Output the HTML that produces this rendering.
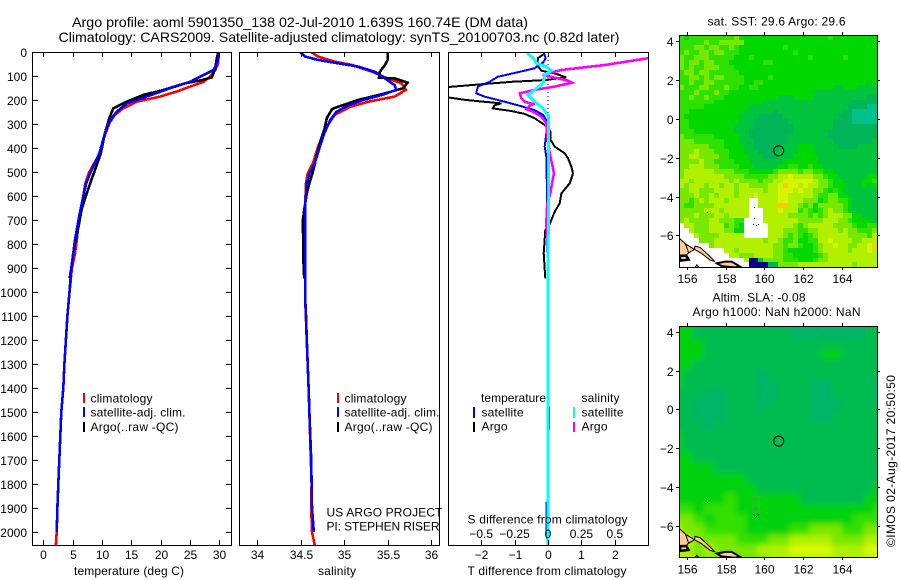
<!DOCTYPE html>
<html>
<head>
<meta charset="utf-8">
<title>Argo profile 5901350_138</title>
<style>
html,body{margin:0;padding:0;background:#fff;}
svg{display:block;}
text{font-family:"Liberation Sans",sans-serif;font-size:12px;fill:#000;}
.t{font-size:14px;}
</style>
</head>
<body>
<svg id="fig" xmlns="http://www.w3.org/2000/svg" width="900" height="580" viewBox="0 0 900 580">
<defs>
<clipPath id="c1"><rect x="33" y="52" width="198" height="493"/></clipPath>
<clipPath id="c2"><rect x="240" y="52" width="200" height="493"/></clipPath>
<clipPath id="c3"><rect x="449" y="52" width="200" height="493"/></clipPath>
<clipPath id="m1"><rect x="679" y="35" width="198" height="232"/></clipPath>
<clipPath id="m2"><rect x="679" y="326" width="198" height="231"/></clipPath>
<filter id="soft" x="-5%" y="-5%" width="110%" height="110%"><feGaussianBlur stdDeviation="3"/></filter>
</defs>
<g id="map1cells" clip-path="url(#m1)"></g>
<g clip-path="url(#m2)"><g id="map2cells" filter="url(#soft)"></g></g>
<g id="map1land" clip-path="url(#m1)"></g>
<g id="map2land" clip-path="url(#m2)"></g>
<g id="lines1" clip-path="url(#c1)"></g>
<g id="lines2" clip-path="url(#c2)"></g>
<g id="lines3" clip-path="url(#c3)"></g>
<g id="axes"></g>

<text class="t" x="72" y="27" textLength="456" lengthAdjust="spacingAndGlyphs">Argo profile: aoml 5901350_138 02-Jul-2010 1.639S 160.74E (DM data)</text>
<text class="t" x="58.5" y="42" textLength="561" lengthAdjust="spacingAndGlyphs">Climatology: CARS2009. Satellite-adjusted climatology: synTS_20100703.nc (0.82d later)</text>

<text x="74" y="575" textLength="110">temperature (deg C)</text>
<text x="318" y="575" textLength="38">salinity</text>
<text x="467.5" y="575" textLength="159">T difference from climatology</text>
<text x="467.5" y="523.5" textLength="160">S difference from climatology</text>

<rect x="83" y="393" width="2" height="10" fill="#f00"/>
<rect x="83" y="407" width="2" height="10" fill="#00f"/>
<rect x="83" y="422" width="2" height="10" fill="#000"/>
<text x="90.5" y="402.5" textLength="62">climatology</text>
<text x="90.5" y="416.5" textLength="95">satellite-adj. clim.</text>
<text x="90.5" y="431" textLength="88">Argo(..raw -QC)</text>

<rect x="337" y="393" width="2" height="10" fill="#f00"/>
<rect x="337" y="407" width="2" height="10" fill="#00f"/>
<rect x="337" y="422" width="2" height="10" fill="#000"/>
<text x="344.5" y="402.5" textLength="62">climatology</text>
<text x="344.5" y="416.5" textLength="95">satellite-adj. clim.</text>
<text x="344.5" y="431" textLength="88">Argo(..raw -QC)</text>

<text x="326.5" y="516.5" textLength="116">US ARGO PROJECT</text>
<text x="326.5" y="530.5" textLength="113">PI: STEPHEN RISER</text>

<text x="481" y="402" textLength="65">temperature</text>
<text x="581.5" y="402" textLength="38">salinity</text>
<rect x="473" y="407" width="2" height="11" fill="#00f"/>
<rect x="473" y="422" width="2" height="10" fill="#000"/>
<rect x="573" y="407" width="2" height="11" fill="#0ff"/>
<rect x="573" y="422" width="2" height="10" fill="#f0f"/>
<text x="481.5" y="416.5" textLength="42">satellite</text>
<text x="481.5" y="430.5" textLength="26">Argo</text>
<text x="581.5" y="416.5" textLength="42">satellite</text>
<text x="581.5" y="430.5" textLength="26">Argo</text>

<text x="707.5" y="25.5" textLength="138">sat. SST: 29.6 Argo: 29.6</text>
<text x="712.5" y="301.5" textLength="93">Altim. SLA: -0.08</text>
<text x="692.5" y="316" textLength="168">Argo h1000: NaN h2000: NaN</text>
<text transform="translate(895 547) rotate(-90)" x="0" y="0" textLength="172">©IMOS 02-Aug-2017 20:50:50</text>
</svg>

<script>
// ---- axis tick values ----
const depthTicks = [0,100,200,300,400,500,600,700,800,900,1000,1100,1200,1300,1400,1500,1600,1700,1800,1900,2000];
const tempTicks = [0,5,10,15,20,25,30];
const salTicks = [34,34.5,35,35.5,36];
const salTickLabels = ['34','34.5','35','35.5','36'];
const tDiffTicks = [-2,-1,0,1,2];
const sDiffTicks = [-0.5,-0.25,0,0.25,0.5];
const sDiffTickLabels = ['-0.5','-0.25','0','0.25','0.5'];
const lonTicks = [156,158,160,162,164];
const latTicks = [4,2,0,-2,-4,-6];
const floatLon = 160.74;
const floatLat = -1.639;

// ---- temperature profiles ----
const tempClimDepth = [0,47,75,103,124,144,165,186,207,235,262,297,367,422,499,547,603,686,783,839,908,1019,1100,1200,1300,1400,1500,1600,1700,1800,1900,2000,2054];
const tempClim = [29.9,29.8,29.3,28.4,27.3,25,22.7,19.9,15.9,13.6,12.2,11.25,10.2,9.65,7.84,7.16,6.8,6.1,5.7,5.4,4.83,4.4,4.1,3.85,3.6,3.4,3.07,2.9,2.73,2.56,2.4,2.28,2.15];
const tempSatDepth = [0,40,75,96,124,151,186,214,249,283,339,422,499,547,603,686,783,894,1019,1100,1200,1300,1400,1500,1600,1700,1800,1900,2000];
const tempSat = [29.8,29.7,29,27.3,25,21.6,17.6,14.2,12.5,11.4,10.5,9.55,8.07,7.3,6.8,6.1,5.4,4.8,4.4,4.1,3.85,3.6,3.4,3.07,2.9,2.73,2.56,2.4,2.28];
const tempArgoDepth = [0,33,68,106,117,131,158,179,207,235,276,339,422,464,533,603,658,728,811,894,943];
const tempArgo = [29.8,29.5,29.3,28.7,27,24.1,20.5,17,14.2,11.9,11.25,10.5,9.8,9.2,8.2,7.2,6.5,6,5.3,4.8,4.5];

// ---- salinity profiles ----
const salClimDepth = [0,19,40,54,82,106,131,158,186,207,228,262,311,394,464,506,547,644,1019,1400,1800,1900,2000,2054];
const salClim = [34.62,34.7,34.89,35.09,35.32,35.47,35.66,35.71,35.58,35.28,35.07,34.89,34.8,34.7,34.64,34.58,34.56,34.55,34.55,34.59,34.625,34.62,34.63,34.66];
const salSatDepth = [0,19,33,47,61,82,110,138,158,179,200,221,249,283,339,394,464,506,547,644,1019,1100,1200,1300,1400,1500,1600,1700,1800,1900,2000];
const salSat = [34.49,34.55,34.7,34.93,35.16,35.35,35.47,35.58,35.6,35.43,35.22,35.05,34.91,34.84,34.77,34.72,34.66,34.6,34.57,34.55,34.55,34.56,34.57,34.58,34.59,34.6,34.61,34.62,34.625,34.63,34.65];
const salArgoDepth = [0,33,54,82,107,110,128,151,172,200,228,238,276,325,367,422,499,547,589,658,700,867,943];
const salArgo = [35.5,35.5,35.47,35.41,35.4,35.58,35.73,35.68,35.47,35.16,34.93,34.86,34.8,34.77,34.73,34.69,34.64,34.6,34.57,34.54,34.525,34.53,34.54];

// ---- differences from climatology ----
const tDiffArgoDepth = [6,26,54,78,89,106,117,124,138,151,181,200,214,222,235,246,258,276,304,332,367,394,422,443,478,506,547,589,631,665,714,742,839,943];
const tDiffArgo = [-0.1,-0.3,-0.32,-0.2,0.2,0.55,-0.1,-1.1,-2.3,-3.4,-3.4,-2.45,-1.4,-1.6,-1.65,-1.1,-0.7,-0.4,-0.1,0.08,0.08,0.2,0.5,0.6,0.7,0.75,0.65,0.4,0.35,0.2,0.06,-0.08,-0.13,-0.08];
const tDiffSatDepth = [6,26,44,68,86,103,124,144,172,186,207,228,242,262,283,339,394,436,506,1019,1470,1480,1570,1580,1870,1880,2000,2054];
const tDiffSat = [-0.12,-0.07,-0.15,-0.4,-0.95,-1.5,-1.75,-2.1,-2.15,-1.9,-1.3,-0.75,-0.4,-0.15,-0.05,-0.05,-0.1,-0.05,-0.04,0,0,0.03,0.03,0,0,-0.05,-0.05,0];
const sDiffArgoDepth = [0,26,54,75,86,96,110,119,128,144,158,172,193,207,217,225,238,249,269,297,353,422,464,506,547,589,631,714,783,925];
const sDiffArgo = [0.88,0.75,0.425,0.1,0.025,-0.0375,0.075,0.15,0.18,0.05,-0.1,-0.21,-0.2,-0.175,-0.11,-0.14,-0.16,-0.11,-0.05,-0.0125,-0.005,0.0125,0.03,0.045,0.03,0.0175,-0.005,-0.0125,-0.005,0];
const sDiffSatDepth = [6,26,47,61,78,96,131,158,179,207,235,269,325,1019,2054];
const sDiffSat = [-0.155,-0.11,-0.0875,-0.0125,0.025,-0.025,-0.0375,-0.1,-0.15,-0.1,-0.0375,0.005,0.005,0,0];

// ---- heatmap colour levels: 0 no data, 1..9 cool to warm, 10 out of range low ----
const sstLevels = [
[5,4,5,5,5,5,5,5,5,5,5,6,4,4,4,4,4,4,4,4,4,4,4,4,4,4,4,4,4,4,5,4,4,4,4,4,4,4,4,4],
[5,5,5,5,5,6,5,5,6,6,6,6,6,4,4,4,4,4,4,4,4,4,4,4,4,4,4,4,4,4,4,4,4,4,4,4,4,4,4,4],
[5,5,5,6,6,5,6,6,5,5,6,5,4,4,4,4,4,4,4,4,4,5,4,4,4,4,4,4,4,4,4,4,4,4,4,4,4,4,4,4],
[5,6,5,5,6,6,5,6,6,5,5,5,4,4,4,4,4,4,4,4,4,4,4,5,4,4,4,4,4,4,4,4,4,4,4,4,4,4,4,4],
[6,5,5,6,6,6,5,5,5,5,5,4,4,4,5,4,4,4,4,4,4,4,4,4,4,4,5,4,4,4,4,4,4,5,4,4,4,4,4,4],
[6,5,6,6,5,6,6,5,5,5,4,4,4,4,4,4,4,5,5,4,4,4,4,4,4,4,4,4,4,4,4,4,4,4,4,4,4,4,4,4],
[6,5,6,5,5,6,6,6,5,5,5,4,4,4,4,4,4,4,4,4,4,4,4,4,4,4,4,4,4,4,4,4,4,4,4,4,4,4,4,4],
[5,6,6,5,6,6,5,5,5,5,5,5,4,4,4,4,4,4,4,4,4,4,4,4,4,4,4,4,4,4,4,4,4,4,4,4,4,4,4,4],
[5,5,6,6,5,6,5,6,6,5,5,5,5,4,4,4,4,4,5,4,4,4,4,4,4,4,4,4,4,4,4,4,4,4,4,4,4,4,4,4],
[5,5,6,5,5,6,6,5,5,5,5,5,5,4,4,5,5,4,4,4,4,4,4,4,4,4,4,4,4,4,4,4,4,4,4,4,4,4,3,4],
[6,5,5,5,6,6,5,5,5,6,5,5,4,4,5,5,4,4,4,4,4,4,4,4,4,4,4,4,4,4,4,3,3,4,4,4,3,3,3,3],
[5,5,5,6,5,5,5,6,5,5,4,4,4,4,4,4,4,4,4,4,4,4,4,4,4,4,4,3,3,3,3,3,3,3,3,3,3,3,3,3],
[5,5,6,5,5,6,5,5,5,4,4,4,4,4,4,4,4,4,4,4,3,3,3,4,4,4,4,3,3,3,3,3,3,3,3,3,3,3,2,2],
[5,5,5,5,5,5,5,4,4,4,4,4,4,4,4,4,4,3,3,3,3,3,3,3,3,3,3,3,3,3,3,3,3,3,3,2,2,2,2,2],
[5,5,5,5,5,4,4,4,4,4,4,4,4,4,3,3,3,3,3,3,3,3,3,3,3,3,3,3,3,3,3,3,3,3,2,2,2,2,1,1],
[5,5,4,4,4,4,4,4,4,4,4,4,4,3,3,3,3,3,3,2,3,3,3,3,3,3,3,3,3,3,3,3,3,2,2,1,1,1,1,1],
[5,4,4,4,4,4,4,4,4,4,4,4,3,3,3,3,2,2,2,2,2,3,3,3,3,3,3,3,3,3,3,3,2,2,2,1,1,1,1,1],
[5,5,4,4,4,4,4,4,4,4,4,4,3,3,3,2,2,2,2,2,2,2,3,3,3,3,3,3,3,3,3,2,2,2,2,1,1,1,1,1],
[5,5,4,4,4,4,4,4,4,4,4,3,3,3,3,2,2,2,2,2,2,2,2,3,3,3,3,3,3,3,3,2,2,2,2,2,2,2,2,2],
[5,5,5,4,4,4,4,4,4,4,4,3,3,3,2,2,2,2,2,2,2,2,2,3,3,3,3,3,3,3,2,2,2,2,2,2,2,2,2,2],
[6,5,5,5,5,5,5,4,4,4,4,4,3,3,2,2,2,2,2,2,2,2,3,3,3,3,3,3,3,3,2,2,2,2,2,2,2,2,2,2],
[6,6,6,5,5,5,5,5,5,4,4,4,3,3,3,2,2,2,2,2,2,2,3,3,3,3,3,3,3,3,3,2,2,2,2,2,2,2,2,3],
[6,6,6,6,6,6,5,5,5,4,4,4,4,3,3,2,2,2,2,2,2,3,3,3,4,4,4,3,3,3,3,3,2,2,2,2,3,3,3,3],
[6,6,6,7,6,6,6,5,5,5,4,4,4,3,3,3,2,2,2,2,3,3,3,3,4,4,4,3,3,3,3,3,3,3,3,3,3,3,3,3],
[6,6,7,7,6,6,6,6,5,5,4,4,4,4,3,3,3,2,2,2,3,3,3,4,4,4,4,4,3,3,3,3,3,3,3,3,3,3,3,3],
[6,6,6,6,7,6,6,5,5,5,5,4,4,4,3,3,3,3,3,3,3,4,4,4,4,4,4,4,3,3,3,3,3,3,3,3,3,3,3,3],
[6,6,7,7,7,6,6,6,5,5,5,5,4,4,4,3,3,3,3,3,4,4,5,5,4,4,5,4,4,3,3,3,3,3,3,3,3,3,3,3],
[6,7,7,7,7,7,7,6,6,6,6,5,5,5,4,4,4,4,4,5,6,6,6,6,5,6,6,5,5,4,4,3,3,3,3,3,3,3,3,3],
[6,7,7,7,7,7,7,7,7,6,6,6,6,5,5,5,5,5,6,6,7,7,8,7,7,7,7,6,6,5,4,4,3,3,3,3,3,3,4,4],
[7,7,6,7,7,7,7,7,7,7,6,7,6,6,6,6,5,6,6,7,7,8,8,8,8,8,8,7,6,6,5,4,4,3,3,3,3,4,4,5],
[7,6,7,7,7,6,7,7,6,7,7,6,7,7,6,6,6,6,7,7,8,9,8,8,7,8,7,7,6,6,5,4,4,4,3,3,3,4,3,4],
[6,6,7,7,6,6,6,7,7,7,7,6,7,7,7,7,7,6,7,7,8,8,8,7,8,7,7,6,6,5,4,5,4,3,3,3,3,3,3,3],
[6,6,6,7,6,6,7,6,7,7,7,6,7,7,7,8,7,7,7,7,8,8,7,7,7,7,7,6,5,5,6,6,4,4,3,3,3,3,3,3],
[6,6,5,6,7,6,7,7,7,6,7,7,7,7,0,0,7,7,7,7,8,8,7,7,7,6,6,6,4,5,6,6,5,5,4,3,3,3,3,3],
[6,5,5,6,6,6,6,7,7,7,7,7,7,7,0,0,7,7,7,7,9,9,7,7,6,5,6,4,6,6,6,6,6,5,4,3,3,3,3,3],
[6,6,6,6,6,7,7,7,6,7,7,7,7,7,0,0,0,7,7,7,8,7,7,7,5,6,5,4,5,6,7,6,6,5,4,3,3,3,3,3],
[6,6,6,7,6,6,6,7,7,6,7,7,7,7,0,0,0,7,7,7,7,7,6,6,6,6,5,6,5,6,7,7,7,6,6,4,4,3,3,3],
[6,7,6,6,6,6,7,7,6,6,6,5,5,0,0,0,0,7,7,7,7,7,7,7,6,6,6,6,6,7,7,7,6,6,5,4,4,4,4,3],
[0,7,7,6,6,6,7,7,7,5,6,5,4,0,0,0,0,0,7,7,7,7,7,6,5,6,7,7,7,7,7,6,6,6,6,5,4,4,5,5],
[0,0,7,6,6,6,7,7,7,6,6,4,4,0,0,0,0,0,7,7,7,6,6,6,5,5,6,6,7,7,7,7,6,7,6,6,5,5,5,6],
[0,0,0,7,6,6,6,6,7,7,7,7,7,0,0,0,0,0,7,7,7,6,5,6,5,4,5,6,7,7,7,7,7,7,6,6,6,6,5,7],
[0,0,0,0,6,6,6,7,7,7,7,7,7,7,7,7,7,6,7,7,6,5,5,6,4,4,5,5,7,7,8,7,7,7,7,6,6,7,7,7],
[0,0,0,0,0,0,6,7,7,7,7,7,7,7,7,7,7,7,7,6,6,5,6,6,5,4,4,5,6,7,7,8,7,7,6,6,7,7,8,9],
[0,0,0,0,0,0,0,0,0,7,7,6,7,7,7,7,7,7,7,6,6,5,4,4,4,4,4,5,6,7,7,7,7,7,6,7,7,7,8,7],
[0,0,0,0,0,0,0,0,0,0,7,7,6,6,6,7,7,7,7,6,6,5,5,4,4,4,4,4,5,6,7,7,7,7,7,7,7,7,7,7],
[0,0,0,0,0,0,0,0,0,0,0,0,0,7,10,10,3,6,6,6,6,5,5,5,4,4,4,5,6,6,7,7,7,7,7,7,7,7,7,7],
[0,0,0,0,0,0,0,0,0,0,0,0,0,0,10,10,10,10,2,2,6,6,6,6,7,7,7,7,7,7,7,7,7,7,7,6,7,7,7,7]
];
const slaLevels = [
[4,4,3,3,3,3,3,3,3,3,2,2,2,2,1,1,2,2,3,3],
[4,4,3,3,3,3,3,3,3,3,3,2,2,2,2,2,2,2,3,3],
[4,4,4,3,3,3,3,3,3,3,3,3,3,3,3,3,3,3,3,3],
[4,4,4,3,3,3,3,3,3,3,3,3,3,3,4,4,3,3,3,3],
[4,4,3,3,3,3,3,3,3,3,3,3,3,3,3,3,3,3,3,3],
[4,3,3,3,3,3,3,3,2,3,3,3,3,3,3,3,3,3,3,3],
[4,3,3,3,3,3,3,3,2,2,3,3,3,2,2,3,3,3,3,2],
[3,3,3,2,2,3,3,3,2,2,3,3,3,2,2,3,3,3,3,2],
[3,3,2,2,2,3,3,3,2,3,3,3,3,2,2,2,3,3,3,2],
[3,3,2,2,2,3,3,3,3,3,3,3,3,2,2,3,3,3,3,3],
[3,3,3,2,3,3,3,3,3,3,3,3,3,3,3,3,3,3,3,3],
[4,3,3,3,3,3,3,3,3,3,3,3,3,3,3,3,3,3,3,3],
[4,3,3,3,3,3,3,3,3,3,3,3,3,3,3,3,3,3,3,3],
[4,4,3,3,3,3,3,3,3,3,3,3,3,3,3,3,3,3,3,3],
[4,4,4,4,3,3,3,3,3,3,3,3,3,3,3,3,3,3,3,3],
[4,4,4,4,4,4,4,3,3,3,3,3,3,3,3,3,3,3,3,3],
[4,4,4,4,4,4,4,4,3,3,3,3,3,3,3,3,3,3,3,4],
[4,4,4,4,4,5,4,4,4,4,4,4,3,3,3,3,3,3,4,4],
[5,5,4,5,5,5,4,4,4,4,4,4,4,4,4,4,4,4,4,5],
[6,6,5,4,5,5,5,4,4,4,4,4,4,4,4,4,4,5,5,5],
[7,6,6,5,5,5,5,4,4,4,4,5,5,6,6,6,5,5,6,6],
[7,7,6,6,6,6,5,5,5,6,6,7,7,7,7,6,6,6,7,7],
[7,7,6,7,6,6,6,6,7,7,7,8,8,8,8,7,7,7,8,8],
[7,7,6,6,6,6,6,6,6,7,7,7,7,7,7,7,7,7,7,8]
];
const sstColors = ['#ffffff','#00c08c','#00b45a','#00c43c','#00d800','#30e000','#78e800','#b0f000','#d8f400','#ffc800','#000080'];
const slaColors = ['#ffffff','#00c078','#00b468','#00bb50','#00d210','#30e000','#78e800','#b0f000','#d8fa00','#ffc800','#000080'];

// ---- coast outlines (lon, lat) ----
const coastMain = [[155.62,-6.15],[155.91,-6.41],[156.14,-6.84],[156,-7.0],[155.62,-7.05]];
const coastBlock = [[155.66,-7.05],[155.98,-7.05],[156.1,-7.25],[155.66,-7.3]];
const coastChain = [[155.95,-6.45],[156.4,-6.72],[156.1,-6.9]];
const coastIsland = [[156.43,-6.55],[156.69,-6.62],[157.12,-7.01],[157.46,-7.35],[157.2,-7.27],[156.77,-6.93],[156.4,-6.72]];
const coastSmall = [[157.55,-7.44],[157.98,-7.35],[158.32,-7.35],[158.75,-7.61],[158.49,-7.65],[157.8,-7.58]];
const coastBit = [[156.42,-7.68],[156.52,-7.52],[156.65,-7.68]];
const reefDots = [[157.05,-4.78],[159.47,-4.55],[159.45,-5.08],[159.4,-5.42],[159.55,-5.48],[159.7,-5.42]];

const NS = 'http://www.w3.org/2000/svg';
const depthY = d => 52 + d * 0.24;
const tempX = v => 43.3 + v * 5.87;
const salX = v => 257.3 + (v - 34) * 86.9;
const tDiffX = v => 548 + v * 33.4;
const sDiffX = v => 548 + v * 133.6;
const lonX = v => 686.7 + (v - 156) * 19.4;
const lat1Y = v => 119 - v * 19.4;
const lat2Y = v => 409.3 - v * 19.4;

function mk(tag, parent, attrs) {
  const el = document.createElementNS(NS, tag);
  for (const k in attrs) el.setAttribute(k, attrs[k]);
  parent.appendChild(el);
  return el;
}
function profile(parent, name, depths, values, xf, color, width) {
  let d = '';
  depths.forEach((dp, i) => { d += (i ? 'L' : 'M') + xf(values[i]).toFixed(1) + ' ' + depthY(dp).toFixed(1); });
  const el = mk('path', parent, {d: d, fill: 'none', stroke: color, 'stroke-width': width, 'shape-rendering': 'crispEdges'});
  
  
}
const L1 = document.getElementById('lines1');
const L2 = document.getElementById('lines2');
const L3 = document.getElementById('lines3');

profile(L1, 'temperature-climatology-line', tempClimDepth, tempClim, tempX, '#f00', 2.6);
profile(L1, 'temperature-argo-line', tempArgoDepth, tempArgo, tempX, '#000', 2.6);
profile(L1, 'temperature-satellite-line', tempSatDepth, tempSat, tempX, '#00f', 2.6);
profile(L2, 'salinity-climatology-line', salClimDepth, salClim, salX, '#f00', 2.6);
profile(L2, 'salinity-argo-line', salArgoDepth, salArgo, salX, '#000', 2.6);
profile(L2, 'salinity-satellite-line', salSatDepth, salSat, salX, '#00f', 2.6);

const zeroLine = mk('line', L3, {x1: tDiffX(0), x2: tDiffX(0), y1: 52, y2: 545, stroke: '#000', 'stroke-width': 1, 'stroke-dasharray': '1 3', 'shape-rendering': 'crispEdges'});


profile(L3, 't-difference-argo-line', tDiffArgoDepth, tDiffArgo, tDiffX, '#000', 2);
profile(L3, 't-difference-satellite-line', tDiffSatDepth, tDiffSat, tDiffX, '#00f', 2);
profile(L3, 's-difference-argo-line', sDiffArgoDepth, sDiffArgo, sDiffX, '#f0f', 2.6);
profile(L3, 's-difference-satellite-line', sDiffSatDepth, sDiffSat, sDiffX, '#0ff', 3);

// ---- heatmaps ----
function heatmap(parent, rows, latY, colors, lonStart, lonEnd, latStart, latEnd) {
  const nr = rows.length, nc = rows[0].length;
  const dLon = (lonEnd - lonStart) / nc, dLat = (latStart - latEnd) / nr;
  rows.forEach((row, r) => row.forEach((lvl, c) => {
    const x0 = Math.round(lonX(lonStart + c * dLon)), x1 = Math.round(lonX(lonStart + (c + 1) * dLon));
    const y0 = Math.round(latY(latStart - r * dLat)), y1 = Math.round(latY(latStart - (r + 1) * dLat));
    const el = mk('rect', parent, {x: x0, y: y0, width: x1 - x0 + 1, height: y1 - y0 + 1, fill: colors[lvl], 'shape-rendering': 'crispEdges'});
    
    
  }));
}
heatmap(document.getElementById('map1cells'), sstLevels, lat1Y, sstColors, 155.62, 165.82, 4.31, -7.65);
heatmap(document.getElementById('map2cells'), slaLevels, lat2Y, slaColors, 155.22, 166.22, 4.71, -8.05);

function coast(parent, pts, latY, sw) {
  const el = mk('polygon', parent, {points: pts.map(p => lonX(p[0]).toFixed(1) + ',' + latY(p[1]).toFixed(1)).join(' '), fill: '#ffcc99', stroke: '#000', 'stroke-width': sw});
  
  
}
[[document.getElementById('map1land'), lat1Y], [document.getElementById('map2land'), lat2Y]].forEach(m => {
  coast(m[0], coastMain, m[1], 1);
  coast(m[0], coastBlock, m[1], 2.5);
  coast(m[0], coastChain, m[1], 1);
  coast(m[0], coastIsland, m[1], 1);
  coast(m[0], coastSmall, m[1], 2);
  coast(m[0], coastBit, m[1], 1);
  reefDots.forEach(p => {
    const el = mk('rect', m[0], {x: Math.round(lonX(p[0])), y: Math.round(m[1](p[1])), width: 1, height: 1, fill: '#000'});
    
    
  });
  const ring = mk('circle', m[0], {cx: lonX(floatLon), cy: m[1](floatLat), r: 5, fill: 'none', stroke: '#000', 'stroke-width': 1});
  
  
});

// ---- axes ----
const AX = document.getElementById('axes');
function frame(x, y, w, h, name) {
  const el = mk('rect', AX, {x: x + 0.5, y: y + 0.5, width: w, height: h, fill: 'none', stroke: '#000', 'stroke-width': 1, 'shape-rendering': 'crispEdges'});
  
  
}
function tick(x1, y1, x2, y2) {
  const el = mk('line', AX, {x1: x1, y1: y1, x2: x2, y2: y2, stroke: '#000', 'stroke-width': 1, 'shape-rendering': 'crispEdges'});
  
  
}
function label(str, x, y, anchor) {
  const el = mk('text', AX, {x: x, y: y, 'text-anchor': anchor});
  el.textContent = str;
  
  
}
const fmtMinus = s => String(s).replace('-', '\u2212');

frame(32, 52, 199, 493, 'temperature-panel-frame');
frame(239, 52, 200, 493, 'salinity-panel-frame');
frame(448, 52, 200, 493, 'difference-panel-frame');
frame(679, 35, 198, 232, 'sst-map-frame');
frame(679, 326, 198, 231, 'sla-map-frame');

depthTicks.forEach(d => {
  const y = Math.round(depthY(d)) + 0.5;
  tick(32, y, 38, y);
  tick(226, y, 231, y);
  label(d, 27, y + 4.5, 'end');
});
tempTicks.forEach(v => {
  const x = Math.round(tempX(v)) + 0.5;
  tick(x, 52, x, 57);
  tick(x, 540, x, 545);
  label(v, x, 559, 'middle');
});
salTicks.forEach((v, i) => {
  const x = Math.round(salX(v)) + 0.5;
  tick(x, 52, x, 57);
  tick(x, 540, x, 545);
  label(salTickLabels[i], x, 559, 'middle');
});
tDiffTicks.forEach(v => {
  const x = Math.round(tDiffX(v)) + 0.5;
  tick(x, 52, x, 57);
  tick(x, 540, x, 545);
  label(fmtMinus(v), x, 559, 'middle');
});
sDiffTicks.forEach((v, i) => {
  label(fmtMinus(sDiffTickLabels[i]), sDiffX(v), 538, 'middle');
});
lonTicks.forEach(v => {
  const x = Math.round(lonX(v)) + 0.5;
  tick(x, 32, x, 35);
  tick(x, 267, x, 270);
  tick(x, 323, x, 326);
  tick(x, 557, x, 560);
  label(v, x, 283, 'middle');
  label(v, x, 573.5, 'middle');
});
latTicks.forEach(v => {
  const y1 = Math.round(lat1Y(v)) + 0.5, y2 = Math.round(lat2Y(v)) + 0.5;
  tick(676, y1, 679, y1);
  tick(877, y1, 880, y1);
  tick(676, y2, 679, y2);
  tick(877, y2, 880, y2);
  label(fmtMinus(v), 673.5, y1 + 4.5, 'end');
  label(fmtMinus(v), 673.5, y2 + 4.5, 'end');
});
</script>
</body>
</html>
